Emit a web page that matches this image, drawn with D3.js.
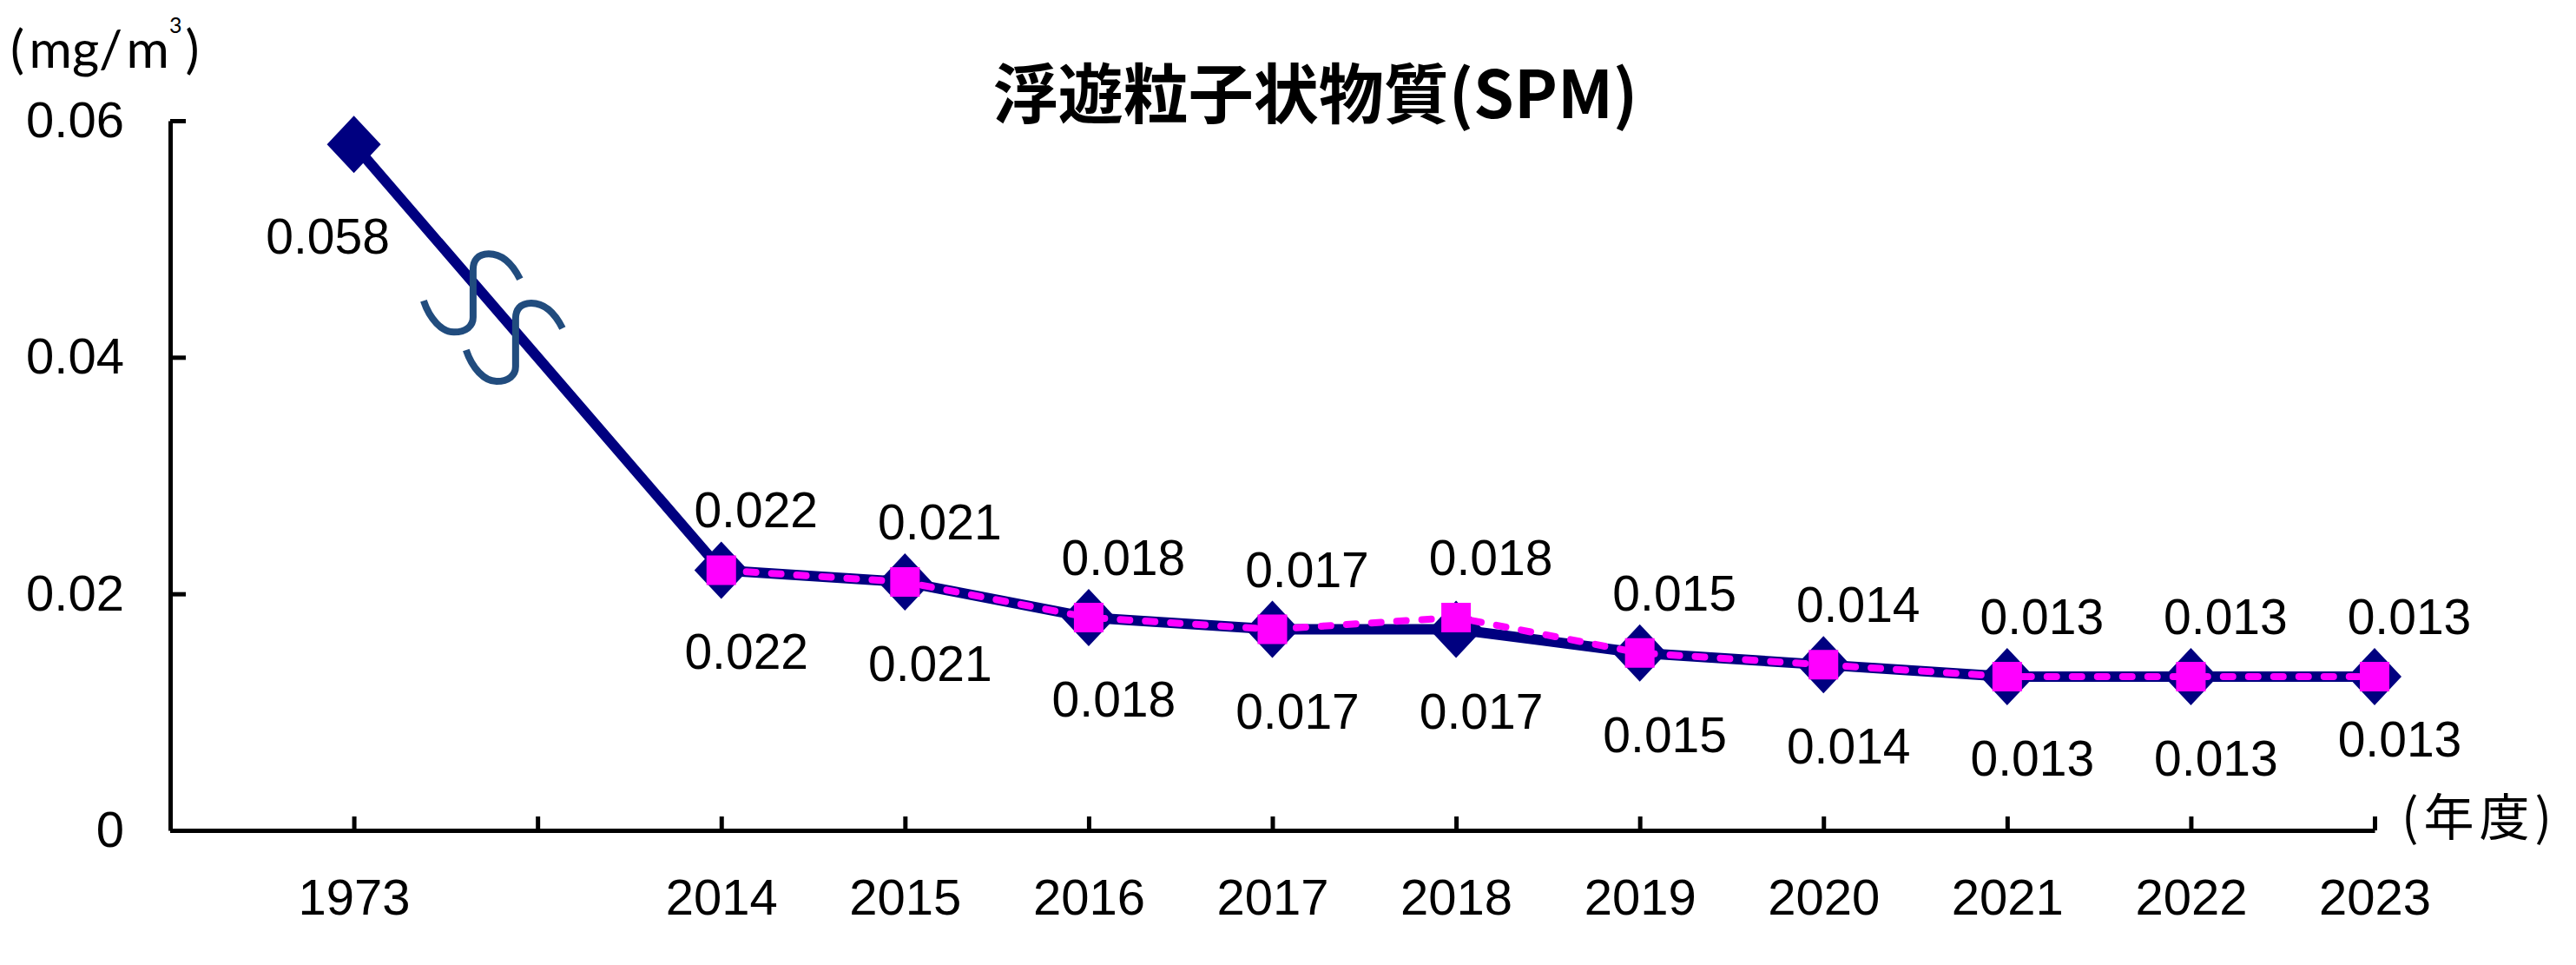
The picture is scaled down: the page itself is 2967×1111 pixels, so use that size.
<!DOCTYPE html>
<html>
<head>
<meta charset="utf-8">
<script src="https://cdn.jsdelivr.net/npm/d3@7"></script>
<style>
  body { margin: 0; background: #fff; }
  svg { display: block; }
</style>
</head>
<body>
<script>
const width = 2967;
const height = 1111;

// data
const years = ["1973", "2014", "2015", "2016", "2017", "2018", "2019", "2020", "2021", "2022", "2023"];
const slots = ["origin", "1973", "break"].concat(years.slice(1)); // axis slots, one empty slot for the break
const navyValues = [0.058, 0.022, 0.021, 0.018, 0.017, 0.017, 0.015, 0.014, 0.013, 0.013, 0.013];
const pinkYears = years.slice(1);
const pinkValues = [0.022, 0.021, 0.018, 0.017, 0.018, 0.015, 0.014, 0.013, 0.013, 0.013];
const yTicks = [0, 0.02, 0.04, 0.06];

const title = "浮遊粒子状物質(SPM)";
const numFont = "'Liberation Sans', Arial, sans-serif";
const cjkFont = "'Noto Sans CJK JP', 'Noto Sans CJK SC', sans-serif";

const navy = "#000080";
const pink = "#ff00ff";

const x = d3.scalePoint().domain(slots).range([196, 2735]);
const y = d3.scaleLinear().domain([0, 0.06]).range([956, 139]);

const svg = d3.select(document.body).append("svg")
    .attr("width", width)
    .attr("height", height)
    .attr("viewBox", [0, 0, width, height]);

svg.append("rect").attr("width", width).attr("height", height).attr("fill", "#fff");

// axes
const yAxis = svg.append("g")
    .attr("transform", "translate(" + x("origin") + ",0)")
    .call(d3.axisLeft(y)
        .tickValues(yTicks)
        .tickSizeInner(-18)
        .tickSizeOuter(0)
        .tickPadding(53)
        .tickFormat(d => d === 0 ? "0" : d3.format(".2f")(d)));

const xAxis = svg.append("g")
    .attr("transform", "translate(0," + y(0) + ")")
    .call(d3.axisBottom(x)
        .tickValues(slots.slice(1))
        .tickSizeInner(-16)
        .tickSizeOuter(0)
        .tickPadding(56)
        .tickFormat(d => years.includes(d) ? d : ""));

[yAxis, xAxis].forEach(g => {
    g.attr("font-family", numFont).attr("font-size", 58);
    g.selectAll("path, line").attr("stroke", "#000").attr("stroke-width", 5);
    g.selectAll("text").attr("fill", "#000");
});

const navyData = years.map((yr, i) => ({slot: yr, value: navyValues[i]}));
const pinkData = pinkYears.map((yr, i) => ({slot: yr, value: pinkValues[i]}));

const line = d3.line().x(d => x(d.slot)).y(d => y(d.value));

// navy series
svg.append("path")
    .datum(navyData)
    .attr("d", line)
    .attr("fill", "none")
    .attr("stroke", navy)
    .attr("stroke-width", 12)
    .attr("stroke-linejoin", "round");

// wavy break marks on the 1973 -> 2014 segment
const p0 = [x("1973"), y(navyValues[0])];
const p1 = [x("2014"), y(navyValues[1])];
const sMark = "M54,-16 C44,-36 32,-45 18,-45 C5,-45 0,-37 0,-27 L0,28 C0,38 -8,45 -22,45 C-36,45 -50,30 -57,9";
[0.3245, 0.4402].forEach(t => {
    svg.append("path")
        .attr("d", sMark)
        .attr("transform", "translate(" + (p0[0] + t * (p1[0] - p0[0])) + "," + (p0[1] + t * (p1[1] - p0[1]) + 12) + ")")
        .attr("fill", "none")
        .attr("stroke", "#214c7e")
        .attr("stroke-width", 8);
});

const diamond = "M0,-33L31,0L0,33L-31,0Z";
svg.append("g").selectAll("path")
    .data(navyData)
    .join("path")
    .attr("d", diamond)
    .attr("transform", d => "translate(" + x(d.slot) + "," + y(d.value) + ")")
    .attr("fill", navy);

// pink series
svg.append("path")
    .datum(pinkData)
    .attr("d", line)
    .attr("fill", "none")
    .attr("stroke", pink)
    .attr("stroke-width", 8)
    .attr("stroke-linecap", "round")
    .attr("stroke-dasharray", "11 18");

svg.append("g").selectAll("path")
    .data(pinkData)
    .join("path")
    .attr("d", d3.symbol(d3.symbolSquare, 34 * 34))
    .attr("transform", d => "translate(" + x(d.slot) + "," + y(d.value) + ")")
    .attr("fill", pink);

// data labels
const fmt = d3.format(".3f");
const last = navyData.length - 1;
const labels = svg.append("g")
    .attr("font-family", numFont)
    .attr("font-size", 57)
    .attr("text-anchor", "middle")
    .attr("fill", "#000");

labels.selectAll("text.navy")
    .data(navyData)
    .join("text")
    .attr("class", "navy")
    .attr("x", (d, i) => x(d.slot) + (i === 0 ? -30 : 29))
    .attr("y", (d, i) => y(d.value) + (i === 0 ? 106 : i === last ? 72 : 94) + 20)
    .text(d => fmt(d.value));

labels.selectAll("text.pink")
    .data(pinkData)
    .join("text")
    .attr("class", "pink")
    .attr("x", d => x(d.slot) + 40)
    .attr("y", d => y(d.value) - 69 + 20)
    .text(d => fmt(d.value));

// title and unit labels
svg.append("text")
    .attr("x", 1515)
    .attr("y", 136)
    .attr("text-anchor", "middle")
    .attr("font-family", cjkFont)
    .attr("font-weight", "bold")
    .attr("font-size", 75)
    .text(title);

const unit = svg.append("text")
    .attr("x", 12)
    .attr("y", 78)
    .attr("font-family", "Lato, 'Open Sans', sans-serif")
    .attr("font-size", 60);
unit.append("tspan").text("(");
unit.append("tspan").attr("dx", 6).text("mg/");
unit.append("tspan").attr("dx", 6).text("m");
unit.append("tspan").attr("font-size", 25).attr("dy", -40).text("3");
unit.append("tspan").attr("font-size", 60).attr("dy", 40).attr("dx", 4).text(")");

svg.append("text")
    .attr("x", 2766)
    .attr("y", 962)
    .attr("font-family", cjkFont)
    .attr("font-size", 58)
    .attr("letter-spacing", 6)
    .text("(年度)");
</script>
</body>
</html>
